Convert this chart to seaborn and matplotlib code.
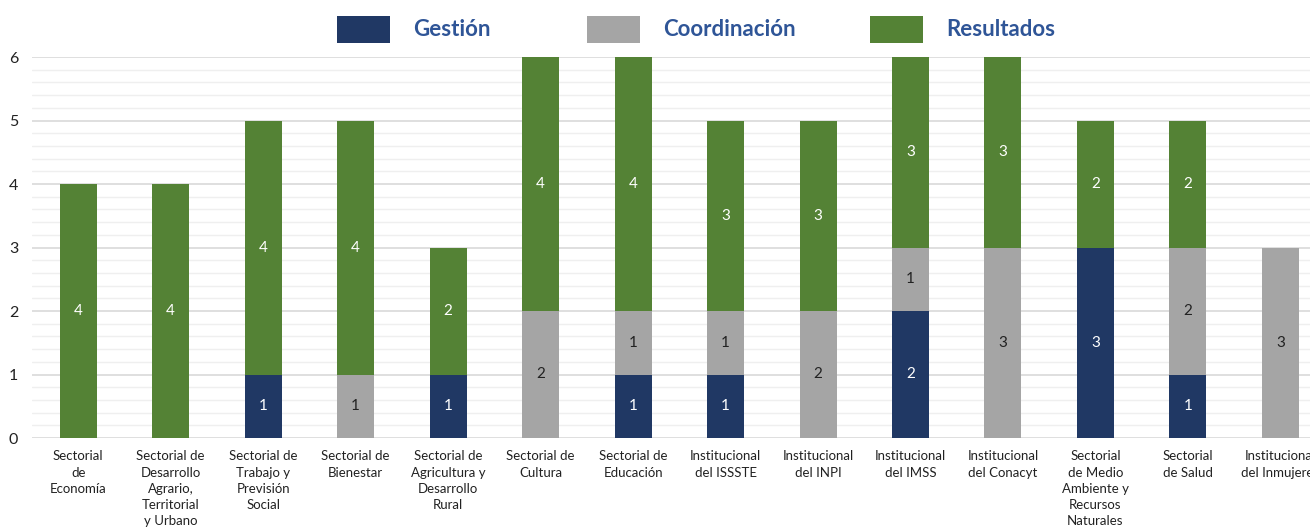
import matplotlib
matplotlib.use("Agg")
import matplotlib.pyplot as plt
import matplotlib.patches as mpatches
import numpy as np
import pandas as pd
import seaborn as sns

sns.set_theme(style="white")
plt.rcParams['font.family'] = ['Lato', 'DejaVu Sans']

# data
categorias = [
    "Sectorial\nde\nEconomía",
    "Sectorial de\nDesarrollo\nAgrario,\nTerritorial\ny Urbano",
    "Sectorial de\nTrabajo y\nPrevisión\nSocial",
    "Sectorial de\nBienestar",
    "Sectorial de\nAgricultura y\nDesarrollo\nRural",
    "Sectorial de\nCultura",
    "Sectorial de\nEducación",
    "Institucional\ndel ISSSTE",
    "Institucional\ndel INPI",
    "Institucional\ndel IMSS",
    "Institucional\ndel Conacyt",
    "Sectorial\nde Medio\nAmbiente y\nRecursos\nNaturales",
    "Sectorial\nde Salud",
    "Institucional\ndel Inmujeres",
]
gestion = [0, 0, 1, 0, 1, 0, 1, 1, 0, 2, 0, 3, 1, 0]
coordinacion = [0, 0, 0, 1, 0, 2, 1, 1, 2, 1, 3, 0, 2, 3]
resultados = [4, 4, 4, 4, 2, 4, 4, 3, 3, 3, 3, 2, 2, 0]

series = ["Gestión", "Coordinación", "Resultados"]
colores = {"Gestión": "#203864", "Coordinación": "#A5A5A5", "Resultados": "#548235"}
texto_color = {"Gestión": "white", "Coordinación": "#222222", "Resultados": "white"}

df = pd.DataFrame({"cat": categorias, "Gestión": gestion,
                   "Coordinación": coordinacion, "Resultados": resultados})
df["c1"] = df["Gestión"]
df["c2"] = df["c1"] + df["Coordinación"]
df["c3"] = df["c2"] + df["Resultados"]

fig = plt.figure(figsize=(13.1, 5.32), dpi=100)
ax = fig.add_axes([32 / 1310, 1 - 438 / 532, 1 - 32 / 1310, (438 - 57) / 532])

# stacked bars drawn as layered cumulative totals
for col, serie in zip(["c3", "c2", "c1"], ["Resultados", "Coordinación", "Gestión"]):
    sns.barplot(data=df, x="cat", y=col, color=colores[serie], width=0.4,
                saturation=1, ax=ax, zorder=3, edgecolor="none")

# segment labels
bottoms = np.zeros(len(df))
for serie in series:
    vals = df[serie].values
    for i, v in enumerate(vals):
        if v > 0:
            ax.text(i, bottoms[i] + v / 2, str(v), ha="center", va="center",
                    fontsize=11, color=texto_color[serie], zorder=4)
    bottoms = bottoms + vals

ax.set_ylim(0, 6)
ax.set_xlim(-0.5, 13.32)
ax.set_yticks(range(0, 7))
ax.set_yticks(np.arange(0, 6.01, 0.2), minor=True)
ax.grid(axis="y", which="major", color="#d9d9d9", linewidth=1.2, zorder=0)
ax.grid(axis="y", which="minor", color="#efefef", linewidth=1.0, zorder=0)
ax.set_axisbelow(True)
for s in ax.spines.values():
    s.set_visible(False)
ax.set_xlabel("")
ax.set_ylabel("")
ax.tick_params(axis="y", which="both", length=0, labelsize=11.5, pad=10, colors="#222222")
ax.tick_params(axis="x", length=0, labelsize=9.5, pad=9, colors="#222222")
for lab in ax.get_xticklabels():
    lab.set_linespacing(1.42)

# legend
leg_x = [337, 587, 870]
for serie, x0 in zip(series, leg_x):
    fig.patches.append(mpatches.Rectangle((x0 / 1310, 1 - 43 / 532), 53 / 1310, 27 / 532,
                                          transform=fig.transFigure, facecolor=colores[serie],
                                          edgecolor="none"))
    fig.text((x0 + 76) / 1310, 1 - 29 / 532, serie, ha="left", va="center",
             fontsize=16, fontweight="bold", color="#2F5597")

fig.savefig("out.png", dpi=100)
